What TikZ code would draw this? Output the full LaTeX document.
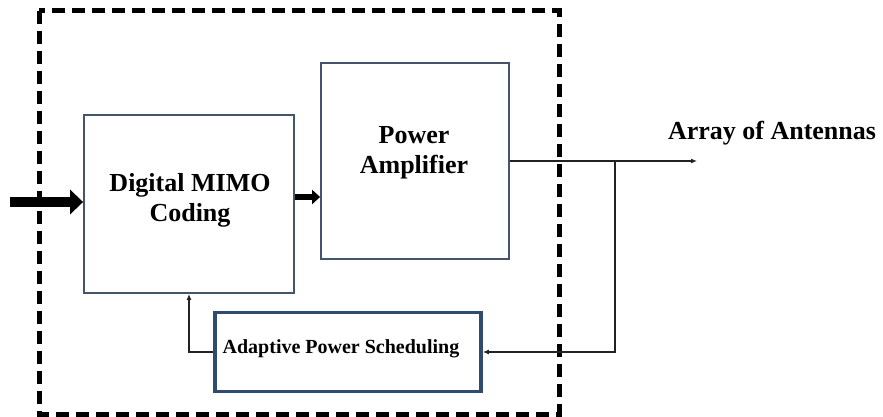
\documentclass[tikz,border=0pt]{standalone}
\usepackage{fontspec}
\setmainfont{Liberation Serif}
\usetikzlibrary{arrows.meta}
\definecolor{boxc}{HTML}{44546A}
\definecolor{apsc}{HTML}{2F4B70}
\definecolor{linec}{HTML}{222222}
\tikzset{
  blk/.style={draw=boxc, line width=1.8pt, fill=white, inner sep=0pt},
  apsblk/.style={draw=apsc, line width=3.5pt, fill=white, inner sep=0pt},
  lbl/.style={font=\bfseries\fontsize{26}{30}\selectfont, align=center, inner sep=0pt},
  conn/.style={draw=linec, line width=1.3pt},
  tip/.style={-{Latex[length=6pt,width=5pt]}},
  frame/.style={draw=black, line width=5pt, dash pattern=on 13pt off 7pt}
}
\begin{document}
\begin{tikzpicture}[x=1pt,y=-1pt]
\useasboundingbox (0,0) rectangle (883,417);
% dashed frame
\draw[frame] (39,11) rectangle (559,414);
% blocks
\node[blk, minimum width=210pt, minimum height=178pt] (mimo) at (189,204) {};
\node[lbl] (mimotext) at (190,200) {Digital MIMO\\Coding};
\node[blk, minimum width=188pt, minimum height=196pt] (pa) at (415,161) {};
\node[lbl] (patext) at (414,153) {Power\\Amplifier};
\node[apsblk, minimum width=266pt, minimum height=79pt] (aps) at (348,352) {};
\node[lbl, font=\bfseries\fontsize{20}{24}\selectfont] (apstext) at (341,349) {Adaptive Power Scheduling};
\node[lbl, font=\bfseries\fontsize{26}{30}\selectfont] (arr) at (772,133) {Array of Antennas};
% coordinates
\coordinate (in) at (10,202);
\coordinate (out) at (697,161);
\coordinate (br) at (615,161);
% input fat arrow
\draw[line width=10pt, -{Triangle[length=13pt,width=24pt]}] (in) -- (mimo.west |- in);
% mimo -> pa
\coordinate (m2p) at (294,197);
\draw[line width=6.5pt, -{Triangle[length=8pt,width=14pt]}] (mimo.east |- m2p) -- (pa.west |- m2p);
% pa output
\draw[conn, tip] (pa.east |- out) -- (out);
\draw[conn, tip] (br) |- (aps.east);
\draw[conn, tip] (aps.west) -| (mimo.south);
\end{tikzpicture}
\end{document}
